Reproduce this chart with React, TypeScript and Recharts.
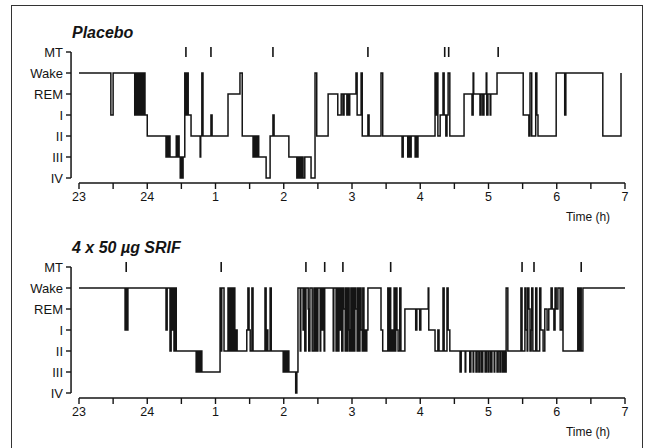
import { ComposedChart, Line, Scatter, XAxis, YAxis, ReferenceLine } from 'recharts';

// sleep stage codes: 1 = IV, 2 = III, 3 = II, 4 = I, 5 = REM, 6 = Wake, 7 = MT
const stageLabels = ['IV', 'III', 'II', 'I', 'REM', 'Wake', 'MT'];
const stageTicks = [1, 2, 3, 4, 5, 6, 7];
const hourLabels = ['23', '24', '1', '2', '3', '4', '5', '6', '7'];
const timeTicks = [0, 30, 60, 90, 120, 150, 180, 210, 240, 270, 300, 330, 360, 390, 420, 450, 480];

// minutes after 23:00 where the stage changes, and the stage from then on
const placeboMinutes = [
  0, 28, 30, 49, 50, 51, 52, 53, 53.5, 54.5, 55.5, 56.5, 57, 58, 60,
  76.5, 77.5, 78, 79, 80, 85.5, 86, 87, 88, 89, 89.5, 90.5, 91.5, 93, 94, 95, 96, 98.5,
  106.5, 107, 108, 109, 116, 117, 131, 141.5, 143.5,
  153, 154, 155, 155.5, 156.5, 157.5, 158, 164.5, 168, 170.5, 171.5, 184.5,
  191.5, 192.5, 193.5, 194.5, 195, 196, 197, 198.5, 204, 207.5, 209,
  219, 227.5, 230.5, 232, 233, 235.5, 236.5, 237.5, 238, 243.5, 244.5, 248, 249, 254, 255,
  265.5, 267, 284, 285, 289, 290, 291, 292, 295.5, 296, 297, 298,
  313, 314, 314.5, 315.5, 317.5, 320, 321, 322.5, 323.5, 324.5, 326,
  338.5, 345.5, 346.5, 347, 352.5, 353.5, 355, 356, 358, 358.5, 359.5, 361.5, 362, 367.5,
  390.5, 395.5, 396.5, 398, 401.5, 402.5, 403.5, 419.5, 427, 428, 460.5, 476.5,
];
const placeboStages = [
  6, 4, 6, 4, 6, 4, 6, 4, 6, 4, 6, 4, 6, 4, 3,
  2, 3, 2, 3, 2, 3, 2, 3, 2, 1, 2, 1, 2, 6, 4, 6, 4, 3,
  2, 3, 6, 3, 4, 3, 5, 6, 3,
  2, 3, 2, 3, 2, 3, 2, 1, 3, 4, 3, 2,
  1, 2, 1, 2, 1, 2, 1, 2, 1, 6, 3,
  5, 4, 5, 4, 5, 4, 5, 4, 5, 6, 4, 6, 3, 4, 3,
  6, 3, 2, 3, 2, 3, 2, 3, 2, 3, 2, 3,
  6, 4, 6, 3, 4, 6, 4, 3, 4, 6, 3,
  5, 4, 6, 5, 4, 5, 4, 5, 6, 4, 5, 4, 5, 6,
  4, 3, 6, 3, 6, 4, 3, 6, 4, 6, 3, 6,
];
const placeboMT = [94, 116, 170.5, 254, 321.5, 325, 368.5];

const srifMinutes = [
  0, 40.5, 41.5, 42, 43, 76.5, 77.5, 80, 81, 82, 82.5, 83.5, 84.5, 85.5,
  103, 103.5, 104.5, 105.5, 106.5, 107, 108,
  124, 125, 125.5, 127.5, 131, 132, 132.5, 133.5, 134.5, 135.5, 136, 137, 138, 139,
  147.5, 148.5, 149.5, 150.5, 152, 153, 163.5, 164.5, 165.5, 166, 168, 169,
  179.5, 180, 181, 182, 183, 183.5, 184.5, 190.5, 191.5, 192.5,
  194.5, 195, 197, 198, 198.5, 199.5, 201.5, 202, 203, 205, 206.5, 207.5, 208.5, 209, 210,
  212, 212.5, 213.5, 214.5, 215.5, 216, 223.5, 224, 226, 227, 227.5, 228.5, 229.5,
  230.5, 231, 232, 233, 234, 234.5, 235.5, 236.5, 237.5, 238, 239, 240, 241, 241.5,
  242.5, 243.5, 244.5, 245, 246, 247, 248, 249, 249.5, 250.5, 251.5, 252.5, 253, 254,
  265.5, 267, 271.5, 272.5, 273.5, 274, 275, 276, 277, 278, 278.5, 279.5, 280.5, 282, 283,
  286.5, 296, 297, 299.5, 300.5, 307, 307.5, 313, 315.5, 316.5, 320, 321, 323.5, 324.5, 326,
  335, 336, 339.5, 340, 343.5, 344.5, 346.5, 347, 349, 350, 351.5, 352.5, 354, 355,
  357, 358, 359.5, 360.5, 362, 363, 365, 365.5, 367.5, 368.5, 370, 371, 372.5, 373.5,
  374.5, 375.5, 377, 388.5, 389.5, 392, 393, 394, 394.5, 395.5, 396.5, 397.5, 398, 399,
  401.5, 402.5, 405, 406, 408, 409.5, 411.5, 413, 415, 416, 417.5, 418.5, 419.5, 421,
  423, 424.5, 425.5, 438.5, 439.5, 440.5, 441.5, 443, 480,
];
const srifStages = [
  6, 4, 6, 4, 6, 4, 6, 3, 6, 4, 6, 3, 6, 3,
  2, 3, 2, 3, 2, 3, 2,
  6, 3, 6, 3, 6, 3, 6, 3, 6, 3, 6, 3, 4, 3,
  4, 6, 4, 3, 6, 3, 6, 3, 4, 3, 6, 3,
  2, 3, 2, 3, 2, 3, 2, 1, 2, 6,
  3, 6, 4, 6, 3, 6, 5, 3, 6, 3, 6, 3, 6, 3, 6,
  3, 6, 4, 6, 3, 6, 3, 6, 3, 6, 3, 6, 4,
  6, 3, 6, 5, 3, 6, 3, 6, 4, 3, 6, 3, 6, 3,
  6, 5, 3, 6, 3, 6, 4, 3, 6, 3, 4, 3, 4, 6,
  4, 3, 6, 3, 6, 3, 4, 3, 6, 3, 6, 4, 3, 6, 3,
  5, 4, 5, 4, 5, 6, 4, 3, 4, 3, 6, 3, 6, 4, 3,
  2, 3, 2, 3, 2, 3, 2, 3, 2, 3, 2, 3, 2, 3,
  2, 3, 2, 3, 2, 3, 2, 3, 2, 3, 2, 3, 2, 3,
  2, 6, 3, 6, 3, 6, 4, 3, 6, 5, 3, 4, 6, 3,
  6, 3, 6, 4, 3, 5, 4, 5, 6, 5, 4, 6, 5, 6,
  4, 6, 3, 6, 3, 6, 3, 6, 6,
];
const srifMT = [41.5, 125, 199.5, 216, 232, 274, 389.5, 400, 441.5];

const INK = '#141414';
const FONT = '"Liberation Sans", Arial, sans-serif';
const AXIS_Y = 0.76; // x axis sits a few px under stage IV
const AXIS_X = -7; // y axis sits a few px left of 23:00

const toSeries = (minutes: number[], stages: number[]) =>
  minutes.map((t, i) => ({ t, stage: stages[i] }));
const toMarks = (minutes: number[]) => minutes.map(t => ({ t, stage: 7 }));

function HourTick({ x, y, payload }: any) {
  const v = payload.value;
  const label = v % 60 === 0 ? hourLabels[v / 60] : null;
  return (
    <g>
      <line x1={x} x2={x} y1={y + 5} y2={y + 11} stroke={INK} strokeWidth={1.4} />
      {label && (
        <text x={x} y={y + 23} textAnchor="middle" fontSize={12.5} fontFamily={FONT} fill={INK}>
          {label}
        </text>
      )}
      {v === 480 && (
        <text x={x - 37} y={y + 43} textAnchor="middle" fontSize={12} fontFamily={FONT} fill={INK}>
          Time (h)
        </text>
      )}
    </g>
  );
}

function StageTick({ x, y, payload }: any) {
  return (
    <g>
      <line x1={x - 13} x2={x - 8} y1={y} y2={y} stroke={INK} strokeWidth={1.4} />
      <text x={x - 16} y={y + 4.5} textAnchor="end" fontSize={13} fontFamily={FONT} fill={INK}>
        {stageLabels[payload.value - 1]}
      </text>
    </g>
  );
}

function MtMark({ cx, cy }: any) {
  return <line x1={cx} x2={cx} y1={cy - 5} y2={cy + 5} stroke={INK} strokeWidth={1.6} />;
}

function Hypnogram({ title, minutes, stages, marks, top }: any) {
  return (
    <div style={{ position: 'absolute', left: 0, top, width: 647, height: 235 }}>
      <div
        style={{
          position: 'absolute', left: 72, top: 25, fontFamily: FONT, fontSize: 16,
          fontWeight: 'bold', fontStyle: 'italic', lineHeight: '16px', color: INK,
        }}
      >
        {title}
      </div>
      <ComposedChart width={647} height={235} margin={{ top: 52, right: 22, bottom: 27, left: 19 }}>
        <XAxis
          type="number" dataKey="t" domain={[0, 480]} ticks={timeTicks} interval={0}
          axisLine={false} tickLine={false} tickSize={0} tickMargin={0} height={30}
          tick={(p: any) => <HourTick {...p} />}
        />
        <YAxis
          type="number" dataKey="stage" domain={[1, 7]} ticks={stageTicks} interval={0}
          axisLine={false} tickLine={false} tickSize={0} tickMargin={0} width={60}
          tick={(p: any) => <StageTick {...p} />}
        />
        <ReferenceLine segment={[{ x: 0, y: AXIS_Y }, { x: 480, y: AXIS_Y }]} ifOverflow="visible" stroke={INK} strokeWidth={1.5} />
        <ReferenceLine segment={[{ x: AXIS_X, y: 1 }, { x: AXIS_X, y: 7 }]} ifOverflow="visible" stroke={INK} strokeWidth={1.5} />
        <Line
          data={toSeries(minutes, stages)} dataKey="stage" type="stepAfter" dot={false} activeDot={false}
          stroke={INK} strokeWidth={1.5} isAnimationActive={false}
        />
        <Scatter data={toMarks(marks)} dataKey="stage" shape={(p: any) => <MtMark {...p} />} isAnimationActive={false} />
      </ComposedChart>
    </div>
  );
}

export default function App() {
  return (
    <div style={{ position: 'absolute', left: 0, top: 0, width: 647, height: 448, overflow: 'hidden', background: '#fff' }}>
      <div
        style={{
          position: 'absolute', left: 11, top: 5, width: 632, height: 470,
          border: '1.5px solid #333', boxSizing: 'border-box',
        }}
      />
      <Hypnogram title="Placebo" minutes={placeboMinutes} stages={placeboStages} marks={placeboMT} top={0} />
      <Hypnogram title="4 x 50 µg SRIF" minutes={srifMinutes} stages={srifStages} marks={srifMT} top={215} />
    </div>
  );
}
